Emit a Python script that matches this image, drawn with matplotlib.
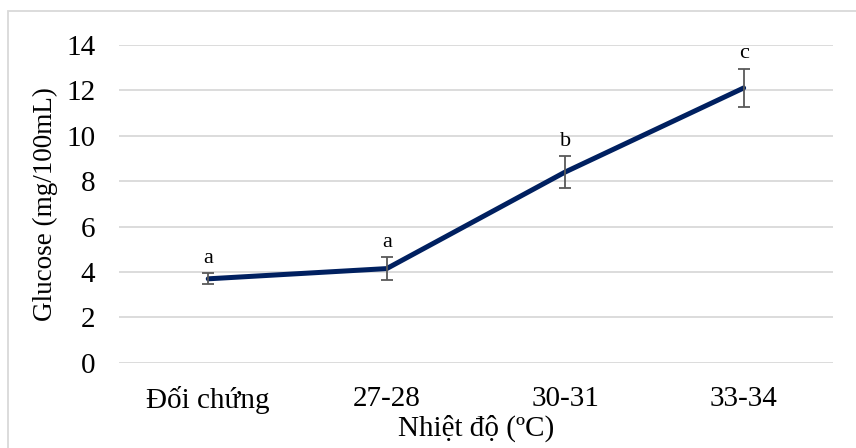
import matplotlib
matplotlib.use('Agg')
import matplotlib.pyplot as plt
from matplotlib.patches import Rectangle

# Data
categories = ['Đối chứng', '27-28', '30-31', '33-34']
glucose = [3.7, 4.15, 8.4, 12.1]
errors = [0.25, 0.5, 0.7, 0.85]
letters = ['a', 'a', 'b', 'c']

plt.rcParams['font.family'] = ['Liberation Serif', 'DejaVu Serif']

fig = plt.figure(figsize=(8.56, 4.48), dpi=100)
ax = fig.add_axes([0.139, 0.19, 0.834, 0.71])

x = list(range(len(categories)))
ax.plot(x, glucose, color='#002060', lw=3.6, solid_capstyle='round', zorder=3)
ax.errorbar(x, glucose, yerr=errors, fmt='none', ecolor='#595959',
            elinewidth=1.3, capsize=4.5, capthick=1.3, zorder=4)

for xi, yi, ei, lab in zip(x, glucose, errors, letters):
    ax.annotate(lab, (xi, yi + ei), xytext=(0, 4), textcoords='offset points',
                ha='center', va='bottom', fontsize=16)

ax.set_xlim(-0.5, len(categories) - 0.5)
ax.set_ylim(0, 14)
ax.set_yticks(range(0, 15, 2))
ax.set_xticks(x)
ax.set_xticklabels(categories)
ax.tick_params(axis='both', length=0, labelsize=21, colors='black')
ax.tick_params(axis='x', pad=17)
ax.tick_params(axis='y', pad=17)
ax.grid(axis='y', color='#d9d9d9', lw=1.3)
ax.set_axisbelow(True)
for s in ax.spines.values():
    s.set_visible(False)

ax.set_ylabel('Glucose (mg/100mL)', fontsize=19.5, labelpad=6)
ax.set_xlabel('Nhiệt độ (ºC)', fontsize=21, labelpad=0)

# light outer border of the chart area
fig.patches.append(Rectangle((8 / 856, -0.1), 1.0, (448 - 11) / 448 + 0.1,
                             transform=fig.transFigure, fill=False,
                             edgecolor='#d9d9d9', lw=1.3))

fig.savefig('out.png', dpi=100)
